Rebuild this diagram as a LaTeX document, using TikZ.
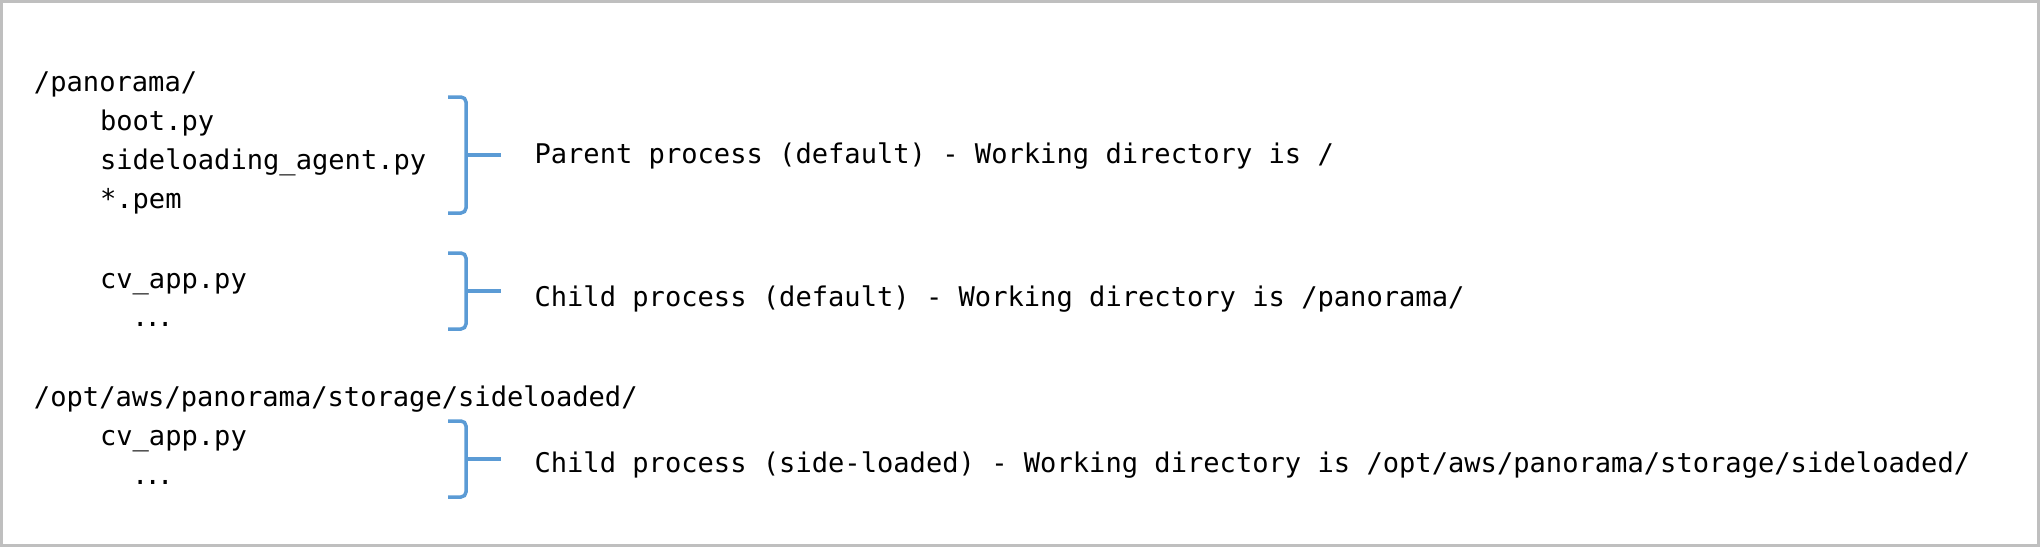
\documentclass[tikz,border=0pt]{standalone}
\usepackage{fontspec}
\newfontfamily\codefont{DejaVu Sans Mono}
\definecolor{bracecol}{HTML}{5B9BD5}
\definecolor{framecol}{HTML}{BFBFBF}
\newcommand{\dotsmall}{.\kern-3.8pt.\kern-3.8pt.}
\begin{document}
\begin{tikzpicture}[x=1pt,y=-1pt,
  codetext/.style={inner sep=0pt, outer sep=0pt, anchor=base west,
    font=\codefont\fontsize{27.1}{32}\selectfont, text=black},
  frame/.style={draw=framecol, line width=2.7pt},
  brace/.style={draw=bracecol, line width=3.5pt, rounded corners=5pt},
  tick/.style={draw=bracecol, line width=3.5pt}]
\useasboundingbox (0,0) rectangle (2043,550);
\draw[frame] (1.7,1.7) rectangle (2038.3,545.7);

% left column
\node[codetext] (pan)   at (34,91.7)   {/panorama/};
\node[codetext] (boot)  at (100,130.5) {boot.py};
\node[codetext] (agent) at (100,169.3) {sideloading\_agent.py};
\node[codetext] (pem)   at (100,208)   {*.pem};
\node[codetext] (cv1)   at (100,288)   {cv\_app.py};
\node[codetext] (dots1) at (132,326)   {\dotsmall};
\node[codetext] (opt)   at (34,406)    {/opt/aws/panorama/storage/sideloaded/};
\node[codetext] (cv2)   at (100,445)   {cv\_app.py};
\node[codetext] (dots2) at (132,484)   {\dotsmall};

% braces
\draw[brace] (448,97) -- (466,97) -- (466,213) -- (448,213);
\coordinate (b1) at (466,155);
\coordinate (t1) at (501,155);
\draw[tick] (b1) -- (t1);

\draw[brace] (448,253) -- (466,253) -- (466,329) -- (448,329);
\coordinate (b2) at (466,291);
\coordinate (t2) at (501,291);
\draw[tick] (b2) -- (t2);

\draw[brace] (448,421) -- (466,421) -- (466,497) -- (448,497);
\coordinate (b3) at (466,459);
\coordinate (t3) at (501,459);
\draw[tick] (b3) -- (t3);

% descriptions
\node[codetext] (d1) at (534.5,163.3) {Parent process (default) - Working directory is /};
\node[codetext] (d2) at (534.5,306.5) {Child process (default) - Working directory is /panorama/};
\node[codetext] (d3) at (534.5,472)   {Child process (side-loaded) - Working directory is /opt/aws/panorama/storage/sideloaded/};
\end{tikzpicture}
\end{document}
